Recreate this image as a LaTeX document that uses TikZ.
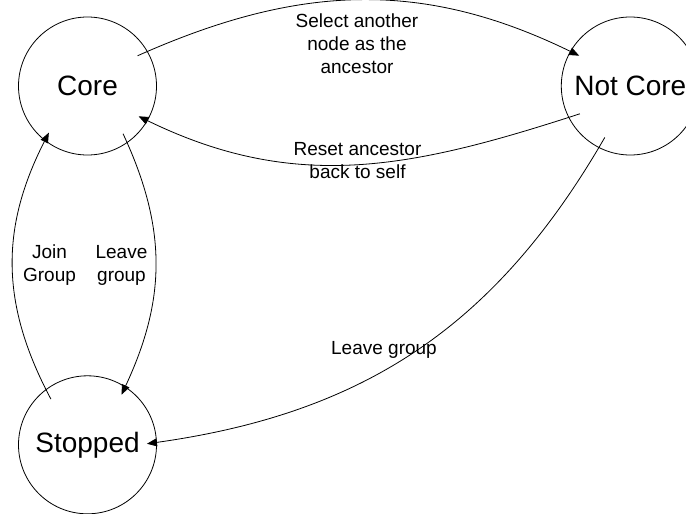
\documentclass[tikz,border=0pt]{standalone}
\usepackage{fontspec}
\setmainfont{Liberation Sans}
\usetikzlibrary{arrows.meta,positioning}

\begin{document}
\begin{tikzpicture}[x=1pt,y=1pt,
node distance=220pt and 404pt,
state/.style={draw,circle,line width=0.8pt,minimum size=138pt,inner sep=0pt,font=\fontsize{28}{34}\selectfont},
lbl/.style={align=center,inner sep=0pt,font=\fontsize{19}{23}\selectfont},
arrow/.style={-{Triangle[length=10pt,width=8pt]},line width=0.8pt}
]
\clip (0,0) rectangle (686,-514);
\fill[white] (0,0) rectangle (686,-514);

\node[state] (core) at (87.5,-86) {Core};
\node[state,right=of core] (notcore) {Not Core};
\node[state,below=of core] (stopped) {Stopped};

\draw[arrow,shorten <=-11pt,shorten >=-10pt] (core.30) to[out=24,in=154] (notcore.150);
\draw[arrow,shorten <=-12pt,shorten >=-10pt] (notcore.207) to[out=198,in=-26] (core.-30);
\draw[arrow,shorten <=-10pt,shorten >=-9pt] (core.-55) to[out=-65,in=65] (stopped.57);
\draw[arrow,shorten <=-11pt,shorten >=-9pt] (stopped.127) to[out=118,in=-117] (core.232);
\draw[arrow,shorten <=-12pt,shorten >=-10pt] (notcore.243) to[out=240,in=8] (stopped.2);

\node[lbl] (lselect) at (357,-43.5) {Select another\\node as the\\ancestor};
\node[lbl] (lreset) at (357.5,-160.2) {Reset ancestor\\back to self};
\node[lbl] (ljoin) at (49.5,-265.5) {Join\\Group};
\node[lbl] (lleavecore) at (121.5,-265.5) {Leave\\group};
\node[lbl] (lleavenot) at (384,-350.3) {Leave group};
\end{tikzpicture}
\end{document}
